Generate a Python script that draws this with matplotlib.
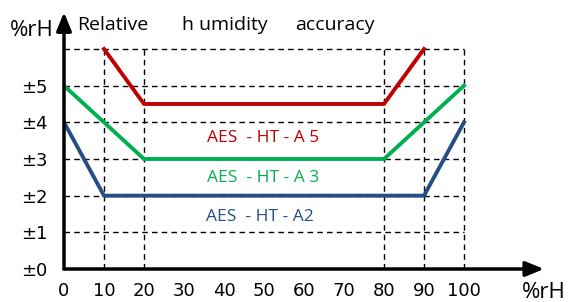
import matplotlib.pyplot as plt

# humidity (%rH) breakpoints and accuracy (±%rH) for each sensor
a5_x = [10, 20, 80, 90]
a5_y = [6, 4.5, 4.5, 6]
a3_x = [0, 20, 80, 100]
a3_y = [5, 3, 3, 5]
a2_x = [0, 10, 90, 100]
a2_y = [4, 2, 2, 4]

x_ticks = [0, 10, 20, 30, 40, 50, 60, 70, 80, 90, 100]
y_ticks = [0, 1, 2, 3, 4, 5]
y_labels = ["±0", "±1", "±2", "±3", "±4", "±5"]
grid_x = [10, 20, 80, 90, 100]
grid_y = [1, 2, 3, 4, 5, 6]

red = "#C00000"
green = "#00B050"
blue = "#254E85"

W, H = 569, 302
fig = plt.figure(figsize=(W / 100, H / 100), dpi=100)
ax = fig.add_axes([64 / W, (H - 269) / H, 480 / W, 7 * 36.67 / H])
ax.set_xlim(0, 120)
ax.set_ylim(0, 7)
for s in ax.spines.values():
    s.set_visible(False)

# dashed grid
for gy in grid_y:
    ax.plot([0, 100], [gy, gy], color="black", lw=1, ls=(0, (4, 3)), zorder=1)
for gx in grid_x:
    ax.plot([gx, gx], [0, 6], color="black", lw=1, ls=(0, (4, 3)), zorder=1)

ax.plot(a5_x, a5_y, color=red, lw=2.8, zorder=3)
ax.plot(a3_x, a3_y, color=green, lw=2.8, zorder=3)
ax.plot(a2_x, a2_y, color=blue, lw=2.8, zorder=3)

# axes with arrows
ax.annotate("", xy=(120, 0), xytext=(0, 0), annotation_clip=False,
            arrowprops=dict(arrowstyle="-|>,head_length=1.1,head_width=0.45",
                            lw=2.5, color="black", shrinkA=0, shrinkB=0))
ax.annotate("", xy=(0, 7), xytext=(0, 0), annotation_clip=False,
            arrowprops=dict(arrowstyle="-|>,head_length=1.1,head_width=0.45",
                            lw=2.5, color="black", shrinkA=0, shrinkB=0))

ax.set_xticks(x_ticks)
ax.set_xticklabels([str(v) for v in x_ticks], fontsize=13)
ax.set_yticks(y_ticks)
ax.set_yticklabels(y_labels, fontsize=13)
ax.tick_params(length=0, pad=9)
ax.tick_params(axis="y", pad=12)

tf = "Open Sans"
ax.text(-2.5, 6.5, "%rH", ha="right", va="center", fontsize=16, family=tf, clip_on=False)
ax.text(114.5, -0.65, "%rH", ha="left", va="center", fontsize=16, family=tf, clip_on=False)
ax.text(3.25, 6.65, "Relative", ha="left", va="center", fontsize=14, family=tf)
ax.text(29.5, 6.65, "h umidity", ha="left", va="center", fontsize=14, family=tf)
ax.text(57.75, 6.65, "accuracy", ha="left", va="center", fontsize=14, family=tf)

ax.text(49.75, 3.57, "AES  - HT - A 5", ha="center", va="center", fontsize=12.5, family=tf, color=red)
ax.text(49.75, 2.48, "AES  - HT - A 3", ha="center", va="center", fontsize=12.5, family=tf, color=green)
ax.text(48.9, 1.42, "AES  - HT - A2", ha="center", va="center", fontsize=12.5, family=tf, color=blue)

fig.savefig("out.png", dpi=100)
